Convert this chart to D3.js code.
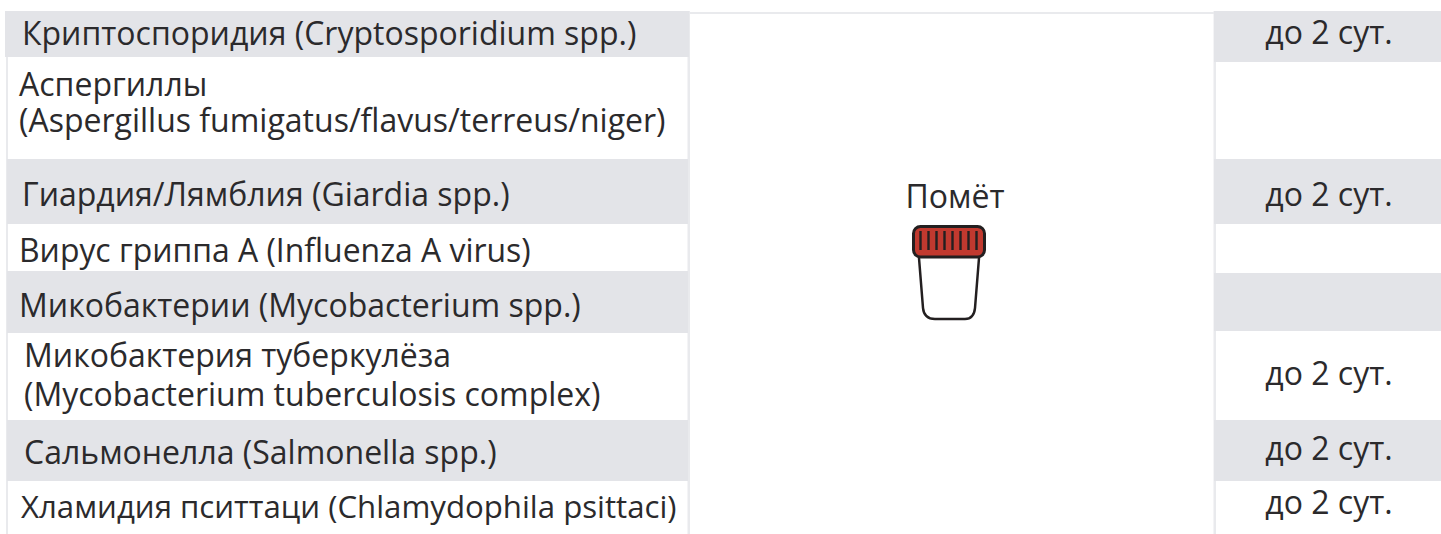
<!DOCTYPE html>
<html>
<head>
<meta charset="utf-8">
<script src="https://cdn.jsdelivr.net/npm/d3@7"></script>
<style>
  html, body { margin: 0; padding: 0; background: #fff; overflow: hidden; }
  text { font-family: "Open Sans", sans-serif; fill: #2b2a2c; }
</style>
</head>
<body>
<script>
// table content
const pathogens = [
  ["Криптоспоридия (Cryptosporidium spp.)"],
  ["Аспергиллы", "(Aspergillus fumigatus/flavus/terreus/niger)"],
  ["Гиардия/Лямблия (Giardia spp.)"],
  ["Вирус гриппа A (Influenza A virus)"],
  ["Микобактерии (Mycobacterium spp.)"],
  ["Микобактерия туберкулёза", "(Mycobacterium tuberculosis complex)"],
  ["Сальмонелла (Salmonella spp.)"],
  ["Хламидия пситтаци (Chlamydophila psittaci)"]
];
const terms = ["до 2 сут.", "", "до 2 сут.", "", "", "до 2 сут.", "до 2 сут.", "до 2 сут."];
const sampleName = "Помёт";

// layout
const gray = "#e3e4e8";
const frame = "#e9eaed";
const leftEdges = [11, 57, 159, 224, 271, 333, 420, 481, 534];
const rightEdges = [11, 62, 159, 224, 273, 331, 420, 481, 534];
const leftX = [22, 19, 22, 19, 19, 24, 24, 21];
const leftSize = [32, 32, 32, 31.9, 32, 32, 32, 31.2];
const leftBase = [[45], [96, 132], [206], [262], [317], [367, 406], [464], [518]];
const termBase = [44, null, 206, null, null, 385, 460, 514];

const svg = d3.select("body").append("svg")
  .attr("width", 1441)
  .attr("height", 534);

const rows = d3.range(pathogens.length);

// frame lines behind the rows
svg.append("rect").attr("x", 6).attr("y", 11).attr("width", 2).attr("height", 523).attr("fill", frame);
svg.append("rect").attr("x", 687.5).attr("y", 11).attr("width", 2.5).attr("height", 523).attr("fill", frame);
svg.append("rect").attr("x", 689).attr("y", 12).attr("width", 526).attr("height", 2).attr("fill", frame);
svg.append("rect").attr("x", 1213.5).attr("y", 11).attr("width", 2.5).attr("height", 523).attr("fill", frame);

// left column, only the shaded rows need a rect
svg.selectAll(".left-row")
  .data(rows.filter((i) => i % 2 == 0))
  .enter()
  .append("rect")
  .attr("class", "left-row")
  .attr("x", (i) => i == 0 ? 5 : 7)
  .attr("y", (i) => leftEdges[i])
  .attr("width", (i) => i == 0 ? 684 : 681)
  .attr("height", (i) => leftEdges[i + 1] - leftEdges[i])
  .attr("fill", gray);

// right column
svg.selectAll(".right-row")
  .data(rows.filter((i) => i % 2 == 0))
  .enter()
  .append("rect")
  .attr("class", "right-row")
  .attr("x", 1214)
  .attr("y", (i) => rightEdges[i])
  .attr("width", 227)
  .attr("height", (i) => rightEdges[i + 1] - rightEdges[i])
  .attr("fill", gray);

// left labels
rows.forEach((i) => {
  pathogens[i].forEach((line, k) => {
    svg.append("text")
      .attr("x", leftX[i])
      .attr("y", leftBase[i][k])
      .style("font-size", leftSize[i] + "px")
      .text(line);
  });
});

// right labels
svg.selectAll(".term")
  .data(rows.filter((i) => terms[i]))
  .enter()
  .append("text")
  .attr("class", "term")
  .attr("x", 1329)
  .attr("y", (i) => termBase[i])
  .attr("text-anchor", "middle")
  .style("font-size", "32px")
  .text((i) => terms[i]);

// sample name and container icon
svg.append("text")
  .attr("x", 955)
  .attr("y", 208)
  .attr("text-anchor", "middle")
  .style("font-size", "32px")
  .text(sampleName);

const icon = svg.append("g").attr("stroke", "#231f20").attr("stroke-width", 2.5);
icon.append("path")
  .attr("fill", "#fff")
  .attr("d", "M919,258 L923,308 Q924,319 935,319 L965,319 Q974,319 975,308 L979,258");
icon.append("rect")
  .attr("x", 913.5).attr("y", 226.5).attr("width", 71).attr("height", 30.5).attr("rx", 7)
  .attr("stroke-width", 3)
  .attr("fill", "#c1392f");
d3.range(8).forEach((k) => {
  icon.append("line")
    .attr("x1", 920.5 + k * 8).attr("x2", 920.5 + k * 8)
    .attr("y1", 231).attr("y2", 250)
    .attr("stroke-width", 2.4);
});
</script>
</body>
</html>
